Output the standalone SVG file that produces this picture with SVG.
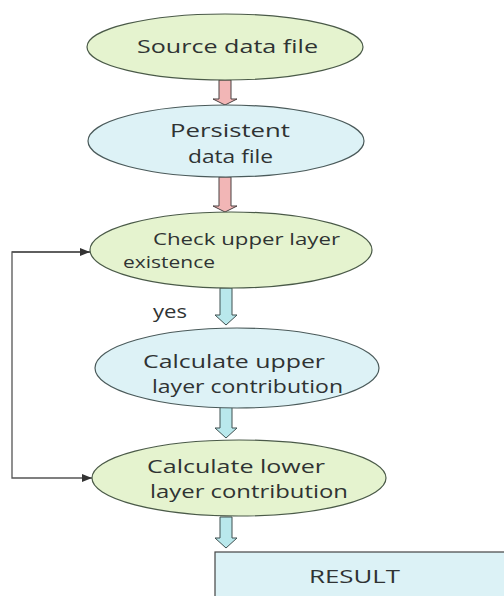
<svg xmlns="http://www.w3.org/2000/svg" width="504" height="596" viewBox="0 0 504 596">
<defs>
<style>
text{font-family:"Open Sans","DejaVu Sans",sans-serif;font-size:18px;fill:#2f3333}
.s{font-size:17px}
.g{fill:#e5f3cf;stroke:#4a5a48;stroke-width:1.2}
.b{fill:#ddf2f6;stroke:#4a5a5a;stroke-width:1.2}
.pa{fill:#f2b6b6;stroke:#4a4040;stroke-width:1}
.ca{fill:#b9e8ec;stroke:#3f5050;stroke-width:1}
.ln{fill:none;stroke:#555;stroke-width:1.3}
</style>
<marker id="ah" viewBox="0 0 10 8" refX="10" refY="4" markerWidth="12" markerHeight="8" markerUnits="userSpaceOnUse" orient="auto">
<path d="M0,0 L10,4 L0,8 Z" fill="#333"/>
</marker>
</defs>
<rect width="504" height="596" fill="#fff"/>
<g id="connectors">
<path class="pa" d="M219,80 V99 H213 L225,105 L237,99 H231 V80 Z"/>
<path class="pa" d="M219,177 V206 H213 L225,212 L237,206 H231 V177 Z"/>
<path class="ca" d="M220,288 V315 H215 L226,325 L237,315 H232 V288 Z"/>
<path class="ca" d="M220,406 V428 H215 L226,438 L237,428 H232 V406 Z"/>
<path class="ca" d="M220,517 V538 H215 L226,548 L237,538 H232 V517 Z"/>
<path class="ln" d="M90,252 H12 V478 H92" marker-end="url(#ah)"/>
<path class="ln" d="M12,252 H90" marker-end="url(#ah)"/>
</g>
<g id="n1">
<ellipse class="g" cx="225" cy="47" rx="138" ry="33"/>
<text x="137" y="53" textLength="181" lengthAdjust="spacingAndGlyphs">Source data file</text>
</g>
<g id="n2">
<ellipse class="b" cx="226" cy="141" rx="138" ry="36"/>
<text x="170" y="137" textLength="120" lengthAdjust="spacingAndGlyphs">Persistent</text>
<text x="188" y="163" textLength="85" lengthAdjust="spacingAndGlyphs">data file</text>
</g>
<g id="n3">
<ellipse class="g" cx="231" cy="250" rx="141" ry="38"/>
<text class="s" x="153" y="245" textLength="187" lengthAdjust="spacingAndGlyphs">Check upper layer</text>
<text class="s" x="123" y="268" textLength="92" lengthAdjust="spacingAndGlyphs">existence</text>
</g>
<text x="153" y="318" textLength="34" lengthAdjust="spacingAndGlyphs">yes</text>
<g id="n4">
<ellipse class="b" cx="237" cy="368" rx="142" ry="40"/>
<text x="143" y="368" textLength="182" lengthAdjust="spacingAndGlyphs">Calculate upper</text>
<text x="152" y="393" textLength="191" lengthAdjust="spacingAndGlyphs">layer contribution</text>
</g>
<g id="n5">
<ellipse class="g" cx="239" cy="478" rx="147" ry="38"/>
<text x="147" y="473" textLength="178" lengthAdjust="spacingAndGlyphs">Calculate lower</text>
<text x="150" y="498" textLength="198" lengthAdjust="spacingAndGlyphs">layer contribution</text>
</g>
<g id="n6">
<rect x="215" y="552" width="300" height="60" fill="#dcf2f6" stroke="#444" stroke-width="1.2"/>
<text x="309" y="583" textLength="91" lengthAdjust="spacingAndGlyphs">RESULT</text>
</g>
</svg>
